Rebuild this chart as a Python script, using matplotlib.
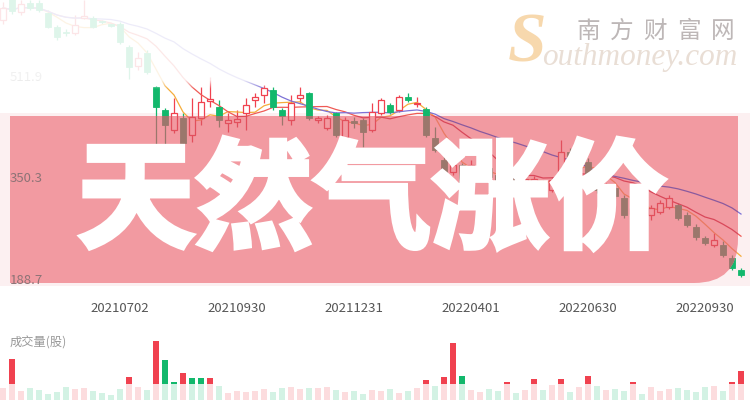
import numpy as np
import pandas as pd
import matplotlib
matplotlib.use("Agg")
import matplotlib.pyplot as plt
import matplotlib.patheffects as pe
from matplotlib.path import Path
from matplotlib.patches import PathPatch, Rectangle

plt.rcParams['font.family'] = ['Noto Sans CJK SC', 'DejaVu Sans']

# ---------------- data (weekly K-line) ----------------
opens = [602.7, 642.5, 615.4, 629.7, 629.7, 613.8, 591.5, 583.6, 582.0, 605.8,
         605.8, 599.5, 594.7, 596.3, 559.7, 529.4, 550.1, 496.0, 459.4, 427.5,
         446.6, 419.6, 446.6, 473.7, 464.2, 438.7, 440.3, 454.6, 475.3, 483.3,
         491.2, 459.4, 443.5, 478.5, 486.4, 443.5, 430.7, 454.6, 416.4, 441.9,
         443.5, 427.5, 454.6, 467.3, 459.4, 480.1, 468.9, 461.0, 414.8, 379.8,
         360.7, 371.8, 360.7, 360.7, 367.0, 355.9, 344.8, 355.9, 338.4, 338.4,
         343.2, 332.0, 336.8, 392.5, 376.6, 376.6, 343.2, 328.8, 335.2, 319.3,
         293.8, 303.4, 292.2, 297.0, 305.0, 308.2, 292.2, 273.1, 255.6, 244.5,
         244.5, 223.8, 204.7]
closes = [621.8, 617.0, 628.1, 621.8, 618.6, 591.5, 575.6, 582.0, 594.7, 609.0,
          591.5, 598.7, 593.9, 567.6, 527.8, 542.2, 519.9, 464.2, 435.5, 454.6,
          406.8, 448.2, 472.1, 476.9, 443.5, 443.5, 445.1, 467.3, 480.1, 494.4,
          464.2, 449.8, 470.5, 483.3, 446.6, 446.6, 446.6, 419.6, 443.5, 438.7,
          424.4, 456.2, 475.3, 456.2, 480.1, 475.3, 470.5, 419.6, 395.7, 351.1,
          371.8, 344.8, 371.8, 370.2, 352.7, 343.2, 354.3, 343.2, 349.5, 349.5,
          332.0, 347.9, 392.5, 379.8, 383.0, 343.2, 332.0, 338.4, 322.5, 292.2,
          303.4, 292.2, 303.4, 311.3, 319.3, 287.4, 276.3, 257.2, 247.7, 252.4,
          228.5, 207.8, 196.7]
highs = [631.3, 650.4, 634.5, 634.5, 634.5, 618.6, 594.7, 588.3, 610.6, 634.5,
         609.0, 602.7, 597.9, 599.5, 562.9, 551.7, 554.9, 497.6, 462.6, 478.5,
         454.6, 478.5, 496.0, 511.9, 475.3, 454.6, 459.4, 478.5, 486.4, 499.2,
         496.0, 462.6, 483.3, 496.0, 488.0, 449.8, 451.4, 456.2, 448.2, 448.2,
         446.6, 470.5, 478.5, 470.5, 483.3, 486.4, 480.1, 464.2, 432.3, 387.7,
         379.8, 375.0, 379.8, 376.6, 371.8, 360.7, 363.9, 360.7, 354.3, 354.3,
         347.9, 352.7, 411.6, 398.9, 395.7, 383.0, 347.9, 343.2, 340.0, 324.1,
         309.8, 308.2, 308.2, 316.1, 324.1, 311.3, 297.0, 277.9, 258.8, 263.6,
         250.8, 228.5, 207.8]
lows = [596.3, 612.2, 610.6, 618.6, 615.4, 589.9, 570.8, 577.2, 578.8, 604.3,
        589.9, 596.3, 591.5, 564.5, 508.7, 523.1, 516.7, 400.5, 403.7, 422.8,
        392.5, 408.4, 435.5, 464.2, 432.3, 424.4, 432.3, 427.5, 464.2, 470.5,
        459.4, 435.5, 435.5, 470.5, 443.5, 438.7, 427.5, 416.4, 408.4, 430.7,
        400.5, 424.4, 451.4, 453.0, 456.2, 472.1, 464.2, 416.4, 392.5, 343.2,
        355.9, 340.0, 354.3, 355.9, 347.9, 338.4, 340.0, 338.4, 332.0, 332.0,
        327.2, 328.8, 332.0, 371.8, 370.2, 338.4, 327.2, 324.1, 319.3, 287.4,
        289.0, 284.3, 284.3, 293.8, 301.8, 284.3, 273.1, 252.4, 244.5, 241.3,
        225.4, 204.7, 193.5]
volumes = [12, 41, 9, 12, 10, 6, 8, 13, 11, 12,
           9, 7, 5, 11, 23, 13, 10, 59, 40, 18,
           27, 22, 22, 22, 14, 7, 9, 8, 9, 11,
           8, 12, 13, 11, 12, 12, 13, 10, 8, 9,
           6, 10, 9, 11, 7, 9, 12, 20, 14, 23,
           57, 24, 10, 8, 11, 9, 18, 7, 10, 21,
           10, 15, 21, 8, 13, 24, 14, 10, 11, 9,
           18, 6, 13, 9, 11, 12, 10, 8, 13, 14,
           9, 18, 29]
vol_up = [1, 1, 1, 0, 0, 0, 0, 0, 1, 1,
          0, 0, 0, 0, 1, 1, 0, 1, 0, 0,
          1, 0, 0, 1, 0, 1, 1, 1, 1, 1,
          0, 0, 1, 1, 0, 1, 1, 0, 1, 0,
          0, 1, 1, 0, 1, 0, 1, 1, 0, 1,
          1, 0, 1, 1, 0, 0, 1, 0, 1, 1,
          0, 1, 1, 0, 1, 1, 0, 1, 0, 0,
          1, 0, 1, 1, 1, 0, 0, 0, 0, 1,
          0, 1, 1]
date_idx = [13, 26, 39, 52, 65, 78]
date_labels = ['20210702', '20210930', '20211231', '20220401', '20220630', '20220930']
price_ticks = [511.9, 350.3, 188.7]
title_text = '天然气涨价'
vol_title = '成交量(股)'
brand_cn = '南方财富网'
brand_s = 'S'
brand_en = 'outhmoney.com'

# ---------------- styling ----------------
W, H = 750, 400
RED, GREEN = '#f0414f', '#12b86c'
MA_COLS = ['#f5ad3c', '#ef5a55', '#7d72d6']
RED_M, GREEN_M = '#e24f5c', '#9b776c'
MA_COLS_M = ['#ea7a62', '#d9485a', '#8a5a9e']
BANNER = '#f29aa1'

fig = plt.figure(figsize=(W / 100, H / 100), dpi=100)
fig.patch.set_facecolor('white')


def fxy(px, py):
    return (px / W, 1 - py / H)


n = len(closes)
idx = np.arange(n)
o, c, h, l = map(np.asarray, (opens, closes, highs, lows))
up = c > o
dn = ~up
top = np.maximum(o, c)
bot = np.minimum(o, c)
body = np.maximum(top - bot, 1.6)
ma = {k: pd.Series(c).rolling(k, min_periods=1).mean().to_numpy() for k in (5, 10, 20)}

XLIM = (-1 / 3, 747 / 9)
YLIM = (179.2, 634.5)

ax = fig.add_axes([0, 1 - 286 / H, 1, 286 / H])
ax.axis('off')

ax.add_patch(Rectangle(fxy(0, 286), 1, (286 - 113) / H, transform=fig.transFigure,
                       facecolor='#fcf0f1', edgecolor='none', zorder=0.5))


def layer(red, green, hollow, ma_cols, z, clip=None):
    arts = []
    arts.append(ax.vlines(idx[dn], l[dn], h[dn], color=green, lw=0.9, zorder=z))
    arts.append(ax.vlines(idx[up], top[up], h[up], color=red, lw=0.9, zorder=z))
    arts.append(ax.vlines(idx[up], l[up], bot[up], color=red, lw=0.9, zorder=z))
    for k, col in zip((5, 10, 20), ma_cols):
        arts += ax.plot(idx, ma[k], color=col, lw=0.9, zorder=z + 0.1)
    b1 = ax.bar(idx[dn], body[dn], bottom=bot[dn], width=0.62, color=green,
                edgecolor=green, lw=0.6, zorder=z + 0.2)
    b2 = ax.bar(idx[up], body[up], bottom=bot[up], width=0.62, facecolor=hollow,
                edgecolor=red, lw=0.9, zorder=z + 0.2)
    arts += list(b1.patches) + list(b2.patches)
    if clip is not None:
        for a in arts:
            a.set_clip_path(clip)
    return arts


layer(RED, GREEN, 'white', MA_COLS, 2)

bx0, bx1, by0, by1, r = 10, 738, 116, 283, 44
pts = [(bx0, by0), (bx1, by0), (bx1, by1 - r), (bx1, by1), (bx1 - r, by1), (bx0, by1), (bx0, by0)]
codes = [Path.MOVETO, Path.LINETO, Path.LINETO, Path.CURVE3, Path.CURVE3, Path.LINETO, Path.CLOSEPOLY]
banner = PathPatch(Path([fxy(*p) for p in pts], codes), transform=fig.transFigure,
                   facecolor=BANNER, edgecolor='none', zorder=5)
ax.add_patch(banner)

layer(RED_M, GREEN_M, BANNER, MA_COLS_M, 6, clip=banner)

banner_top_price = YLIM[1] - (YLIM[1] - YLIM[0]) * by0 / 286
for v in price_ticks:
    inside = v < banner_top_price
    t = ax.text(10 / W, v, f'{v:.1f}', transform=ax.get_yaxis_transform(), ha='left',
                va='center', fontsize=9.5, color='#8d7376' if inside else '#9a9a9a', zorder=8)
    if inside:
        t.set_clip_path(banner)

for i, lab in zip(date_idx, date_labels):
    ax.text(i, -(308 - 286) / 286, lab, transform=ax.get_xaxis_transform(), ha='center',
            va='center', fontsize=9.5, color='#555555', clip_on=False)

ax.set_xlim(XLIM)
ax.set_ylim(YLIM)

# volume panel
vax = fig.add_axes([0, 0, 1, 65 / H])
vax.axis('off')
vax.bar(idx, volumes, width=0.62, color=[RED if u else GREEN for u in vol_up])
vax.set_xlim(XLIM)
vax.set_ylim(0, 65)
fig.text(*fxy(10, 343), vol_title, ha='left', va='center', fontsize=8.8, color='#999999')

# white fades (top and bottom)
ov = fig.add_axes([0, 0, 1, 1], zorder=1)
ov.axis('off')
ys = np.arange(H) + 0.5
alpha = np.zeros(H)
alpha[ys < 80] = 0.87
ramp = (ys >= 80) & (ys < 89)
alpha[ramp] = 0.87 * (89 - ys[ramp]) / 9
alpha[ys >= 384] = 0.82
img = np.ones((H, 1, 4))
img[:, 0, 3] = alpha
ov.imshow(img, extent=(0, 1, 0, 1), aspect='auto', interpolation='nearest')
ov.set_xlim(0, 1)
ov.set_ylim(0, 1)

# watermark
fig.text(*fxy(527, 44), brand_s, ha='center', va='center', fontsize=50,
         family='Liberation Serif', style='italic', weight='bold', color='#f7d8ad', zorder=4)
for k, ch in enumerate(brand_cn):
    fig.text(*fxy(588.5 + 33.5 * k, 31), ch, ha='center', va='center', fontsize=17,
             color='#bdb7b7', zorder=4)
fig.text(*fxy(737, 65), brand_en, ha='right', va='baseline', fontsize=22.5,
         family='Liberation Serif', style='italic', color='#e9ded5', zorder=4)

# headline
fig.text(*fxy(372, 204), title_text, ha='center', va='center', fontsize=85,
         fontweight='black', color='white', zorder=10,
         path_effects=[pe.withStroke(linewidth=3.2, foreground='white', joinstyle='miter')])

fig.savefig('out.png', dpi=100)
